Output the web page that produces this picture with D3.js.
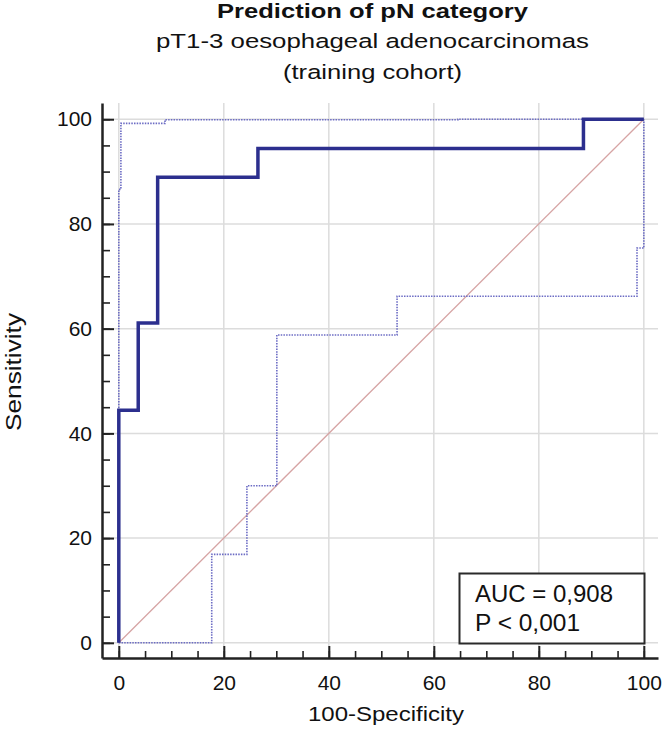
<!DOCTYPE html>
<html>
<head>
<meta charset="utf-8">
<script src="https://cdn.jsdelivr.net/npm/d3@7"></script>
<style>
  html, body { margin: 0; padding: 0; background: #fff; }
  svg { display: block; font-family: "Liberation Sans", Arial, sans-serif; }
</style>
</head>
<body>
<svg id="chart" width="663" height="730"></svg>
<script>
// ---- data ----
const titleLines = ["Prediction of pN category", "pT1-3 oesophageal adenocarcinomas", "(training cohort)"];
const xLabel = "100-Specificity";
const yLabel = "Sensitivity";
const majorTicks = [0, 20, 40, 60, 80, 100];
const minorTicks = [0,5,10,15,20,25,30,35,40,45,50,55,60,65,70,75,80,85,90,95,100];

// ROC curve vertices (100-Specificity, Sensitivity)
const rocX = [0, 0, 3.7, 7.4, 26.5, 88.5, 100];
const rocY = [0, 44.4, 61.1, 88.9, 94.4, 100, 100];
// upper confidence bound
const upperX = [0, 0, 0.4, 8.8, 64.6, 100];
const upperY = [0, 86.6, 99.2, 99.9, 100, 100];
// lower confidence bound
const lowerX = [0, 17.7, 24.4, 30.1, 53.0, 98.7, 100];
const lowerY = [0, 16.9, 30.0, 58.8, 66.2, 75.4, 100];
// reference diagonal
const diagX = [0, 100];
const diagY = [0, 100];

const statLines = ["AUC = 0,908", "P < 0,001"];

// ---- layout ----
const svg = d3.select("#chart");
const pL = 102, pR = 658, pT = 103, pB = 658;

const x = d3.scaleLinear().domain([-3.2, 102.7]).range([pL, pR]);
const y = d3.scaleLinear().domain([-2.9, 103.1]).range([pB, pT]);

// gridlines
const grid = svg.append("g");
grid.selectAll("line.v").data(majorTicks).join("line").attr("class", "v")
  .attr("x1", d => x(d)).attr("x2", d => x(d))
  .attr("y1", pT).attr("y2", pB)
  .attr("stroke", "#dcdcdc").attr("stroke-width", 1.5);
grid.selectAll("line.h").data(majorTicks).join("line").attr("class", "h")
  .attr("x1", pL).attr("x2", pR)
  .attr("y1", d => y(d)).attr("y2", d => y(d))
  .attr("stroke", "#dcdcdc").attr("stroke-width", 1.5);

// diagonal
const toPts = (xs, ys) => xs.map((v, i) => [v, ys[i]]);
svg.append("path")
  .attr("d", d3.line().x(d => x(d[0])).y(d => y(d[1]))(toPts(diagX, diagY)))
  .attr("fill", "none").attr("stroke", "#d6a4a4").attr("stroke-width", 1.3);

const step = d3.line().x(d => x(d[0])).y(d => y(d[1])).curve(d3.curveStepAfter);

// confidence bounds
[[upperX, upperY], [lowerX, lowerY]].forEach(([xs, ys]) => {
  svg.append("path")
    .attr("d", step(toPts(xs, ys)))
    .attr("fill", "none").attr("stroke", "#6c6cc4")
    .attr("stroke-width", 1.6).attr("stroke-dasharray", "1.5,1.2");
});

// ROC curve
svg.append("path")
  .attr("d", step(toPts(rocX, rocY)))
  .attr("fill", "none").attr("stroke", "#2c2f8e")
  .attr("stroke-width", 3.5).attr("stroke-linejoin", "miter");

// axes
const axisColor = "#222";
function styleAxis(g) {
  g.select(".domain").attr("stroke", axisColor).attr("stroke-width", 2.5);
  g.selectAll(".tick line").attr("stroke", axisColor).attr("stroke-width", 2);
  g.selectAll(".tick text").attr("fill", "#111").style("font-size", "21px")
    .style("font-family", "'Liberation Sans', Arial, sans-serif");
}

const xMinor = svg.append("g").attr("transform", `translate(0,${pB})`)
  .call(d3.axisBottom(x).tickValues(minorTicks).tickSizeInner(-7).tickSizeOuter(0).tickFormat(""));
xMinor.select(".domain").remove();
xMinor.selectAll(".tick line").attr("stroke", axisColor).attr("stroke-width", 1.6);

const yMinor = svg.append("g").attr("transform", `translate(${pL},0)`)
  .call(d3.axisLeft(y).tickValues(minorTicks).tickSizeInner(-8).tickSizeOuter(0).tickFormat(""));
yMinor.select(".domain").remove();
yMinor.selectAll(".tick line").attr("stroke", axisColor).attr("stroke-width", 1.6);

const xAxis = svg.append("g").attr("transform", `translate(0,${pB})`)
  .call(d3.axisBottom(x).tickValues(majorTicks).tickSizeInner(-12).tickSizeOuter(0).tickPadding(17));
styleAxis(xAxis);

const yAxis = svg.append("g").attr("transform", `translate(${pL},0)`)
  .call(d3.axisLeft(y).tickValues(majorTicks).tickSizeInner(-12).tickSizeOuter(0).tickPadding(10));
styleAxis(yAxis);

// axis titles
svg.append("text").attr("x", 386).attr("y", 721).attr("text-anchor", "middle")
  .style("font-size", "21px").attr("fill", "#111")
  .attr("textLength", 156).attr("lengthAdjust", "spacingAndGlyphs").text(xLabel);
svg.append("text").attr("transform", "translate(21,372) rotate(-90)").attr("text-anchor", "middle")
  .style("font-size", "22px").attr("fill", "#111").attr("textLength", 118).attr("lengthAdjust", "spacingAndGlyphs")
  .text(yLabel);

// title
const tSizes = [21, 20.5, 20.5];
const tBase = [17.5, 48, 78.5];
const tWidths = [311, 433, 179];
titleLines.forEach((t, i) => {
  svg.append("text").attr("x", 372.5).attr("y", tBase[i]).attr("text-anchor", "middle")
    .style("font-size", tSizes[i] + "px").style("font-weight", i === 0 ? "bold" : "normal")
    .attr("fill", "#111")
    .attr("textLength", tWidths[i]).attr("lengthAdjust", "spacingAndGlyphs")
    .text(t);
});

// stats box
const box = svg.append("g");
box.append("rect").attr("x", 459.5).attr("y", 573.5).attr("width", 185).attr("height", 70)
  .attr("fill", "#fff").attr("stroke", "#2a2a2a").attr("stroke-width", 2);
statLines.forEach((t, i) => {
  box.append("text").attr("x", 475).attr("y", 602 + i * 28.5)
    .style("font-size", "24px").attr("fill", "#111")
    .attr("textLength", i === 0 ? 138 : 105).attr("lengthAdjust", "spacingAndGlyphs")
    .text(t);
});
</script>
</body>
</html>
